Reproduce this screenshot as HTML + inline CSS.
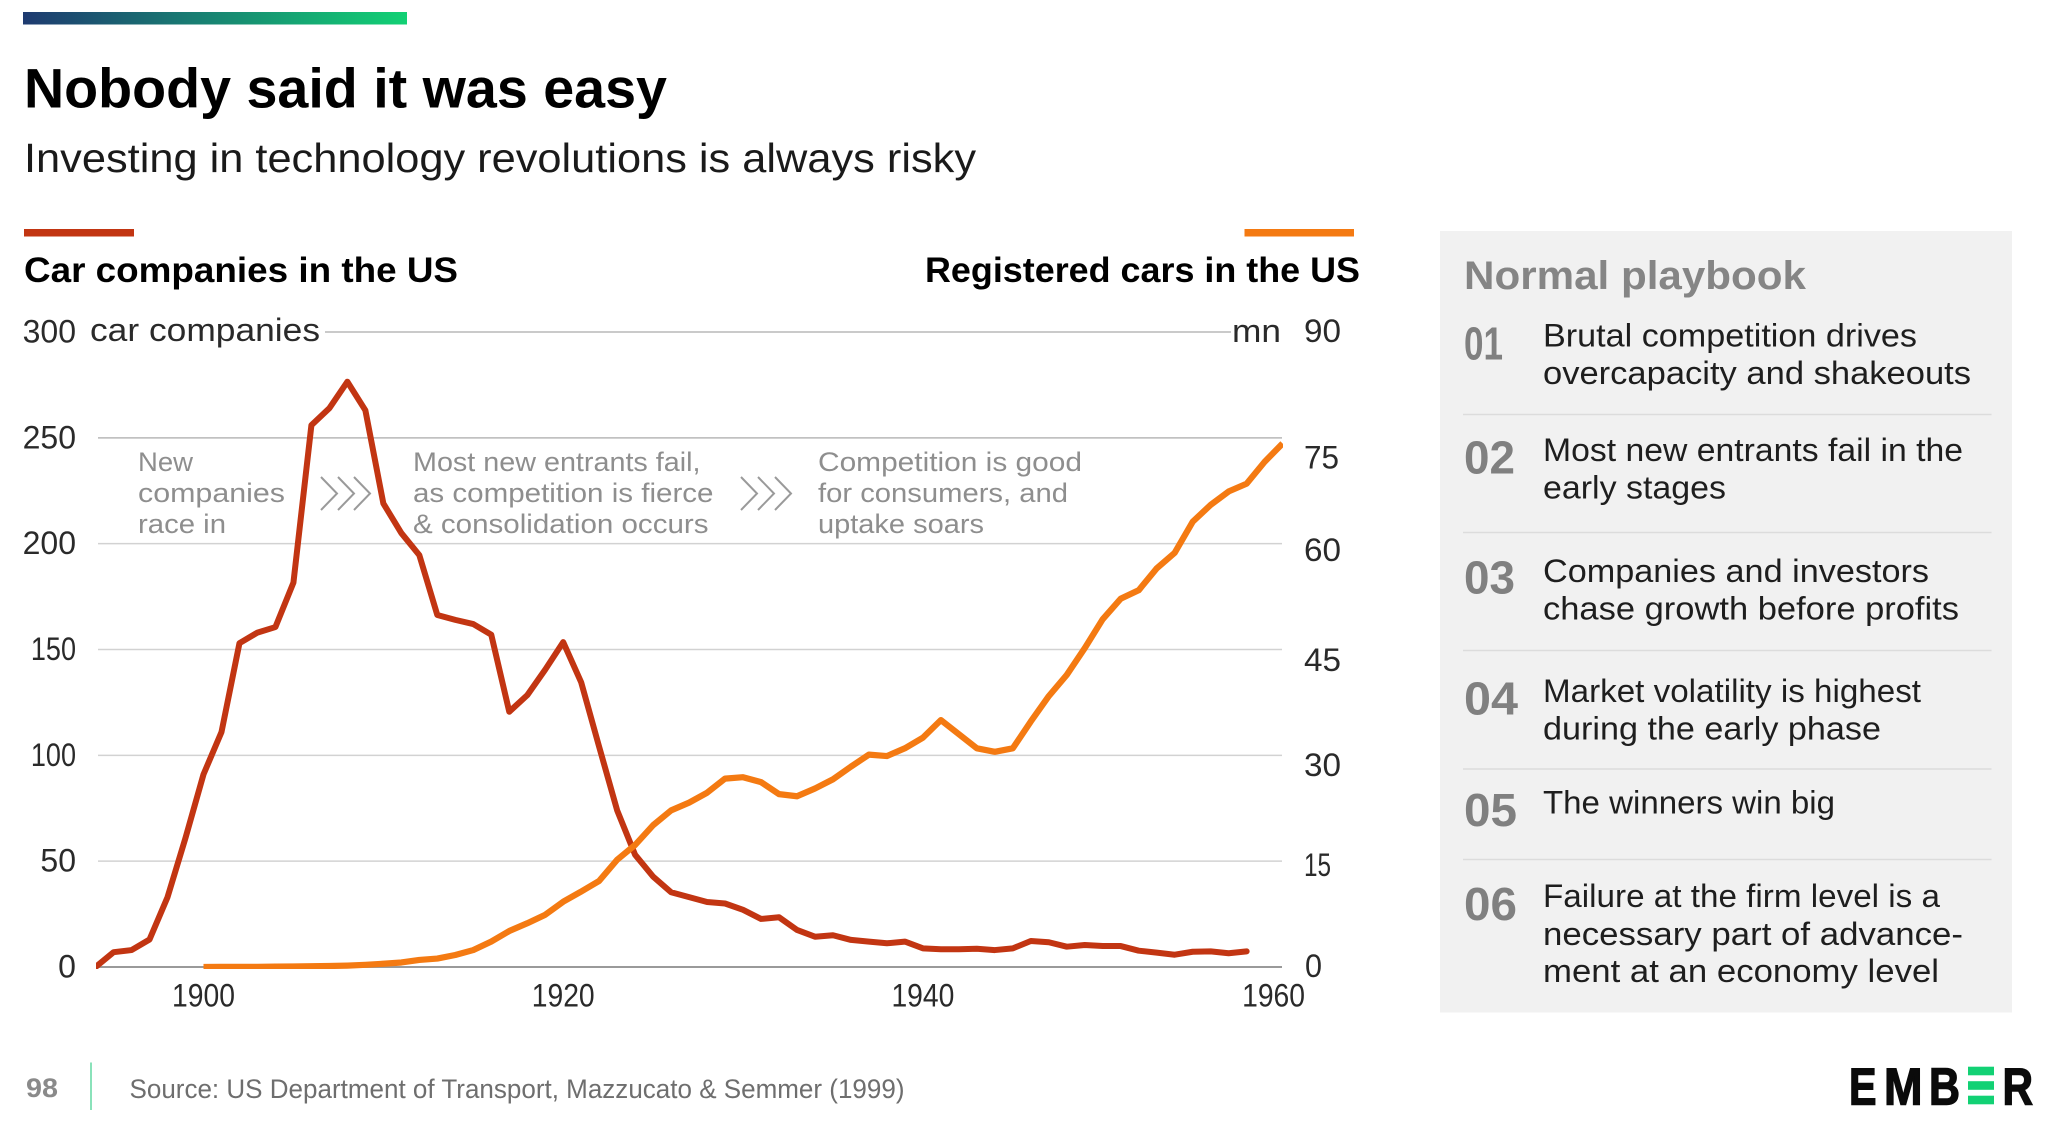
<!DOCTYPE html>
<html lang="en">
<head>
<meta charset="utf-8">
<title>Nobody said it was easy</title>
<style>
html,body{margin:0;padding:0;background:#fff;}
svg{display:block;}
text{font-family:"Liberation Sans",sans-serif;}
.light{fill:#262626;}
.note{fill:#8e8e8e;font-size:27px;}
.item{fill:#1e1e1e;font-size:32px;}
.num{fill:#808080;font-size:46px;font-weight:700;}
.tick{fill:#2a2a2a;font-size:32px;}
.logo{fill:#0b0b0b;stroke:#0b0b0b;stroke-width:1.4px;font-size:52px;font-weight:700;}
.chev{fill:none;stroke:#9a9a9a;stroke-width:2;}
.div{stroke:#dcdcdc;stroke-width:1.5;}
</style>
</head>
<body>
<svg id="slide" xmlns="http://www.w3.org/2000/svg" width="2048" height="1133" viewBox="0 0 2048 1133">
  <defs>
    <linearGradient id="topGrad" x1="0" x2="1" y1="0" y2="0">
      <stop offset="0" stop-color="#1e3a70"/>
      <stop offset="1" stop-color="#12d174"/>
    </linearGradient>
    <clipPath id="plotClip"><rect x="96" y="300" width="1187" height="669"/></clipPath>
  </defs>
  <rect x="0" y="0" width="2048" height="1133" fill="#ffffff"/>
  <rect x="23" y="12" width="384" height="12.5" fill="url(#topGrad)"/>
  <text x="24" y="107.5" font-size="56" font-weight="700" fill="#000" textLength="643" lengthAdjust="spacingAndGlyphs">Nobody said it was easy</text>
  <text x="24" y="172" font-size="41" fill="#1a1a1a" textLength="952" lengthAdjust="spacingAndGlyphs">Investing in technology revolutions is always risky</text>

  <rect x="24" y="229" width="110" height="7.5" fill="#c23512"/>
  <rect x="1244.5" y="229" width="109.5" height="7.5" fill="#f47a12"/>
  <text x="24" y="282" font-size="35" font-weight="700" fill="#000" textLength="434" lengthAdjust="spacingAndGlyphs">Car companies in the US</text>
  <text x="925" y="282" font-size="35" font-weight="700" fill="#000" textLength="435" lengthAdjust="spacingAndGlyphs">Registered cars in the US</text>

  <g id="grid"></g>
  <text class="tick" x="90" y="341" textLength="230" lengthAdjust="spacingAndGlyphs">car companies</text>
  <text class="tick" x="1232" y="342" textLength="49" lengthAdjust="spacingAndGlyphs">mn</text>
  <g id="leftTicks"></g>
  <g id="xTicks"></g>
  <g>
    <text class="tick" x="1304" y="342" textLength="37" lengthAdjust="spacingAndGlyphs">90</text>
    <text class="tick" x="1304" y="468.5" textLength="35" lengthAdjust="spacingAndGlyphs">75</text>
    <text class="tick" x="1304" y="561" textLength="37" lengthAdjust="spacingAndGlyphs">60</text>
    <text class="tick" x="1304" y="671" textLength="37" lengthAdjust="spacingAndGlyphs">45</text>
    <text class="tick" x="1304" y="776" textLength="37" lengthAdjust="spacingAndGlyphs">30</text>
    <text class="tick" x="1304" y="876" textLength="27" lengthAdjust="spacingAndGlyphs">15</text>
    <text class="tick" x="1305" y="977" textLength="17" lengthAdjust="spacingAndGlyphs">0</text>
  </g>

  <g>
    <text class="note" x="138" y="471" textLength="55" lengthAdjust="spacingAndGlyphs">New</text>
    <text class="note" x="138" y="502" textLength="147" lengthAdjust="spacingAndGlyphs">companies</text>
    <text class="note" x="138" y="533" textLength="88" lengthAdjust="spacingAndGlyphs">race in</text>
  </g>
  <g>
    <text class="note" x="413" y="471" textLength="287.5" lengthAdjust="spacingAndGlyphs">Most new entrants fail,</text>
    <text class="note" x="413" y="502" textLength="300.5" lengthAdjust="spacingAndGlyphs">as competition is fierce</text>
    <text class="note" x="413" y="533" textLength="295.5" lengthAdjust="spacingAndGlyphs">&amp; consolidation occurs</text>
  </g>
  <g>
    <text class="note" x="818" y="471" textLength="264" lengthAdjust="spacingAndGlyphs">Competition is good</text>
    <text class="note" x="818" y="502" textLength="250" lengthAdjust="spacingAndGlyphs">for consumers, and</text>
    <text class="note" x="818" y="533" textLength="166" lengthAdjust="spacingAndGlyphs">uptake soars</text>
  </g>
  <g>
    <path class="chev" d="M321 477L337 493.5L321 510"/>
    <path class="chev" d="M338 477L354 493.5L338 510"/>
    <path class="chev" d="M354 477L370 493.5L354 510"/>
  </g>
  <g>
    <path class="chev" d="M741 477L757 493.5L741 510"/>
    <path class="chev" d="M758 477L774 493.5L758 510"/>
    <path class="chev" d="M775 477L791 493.5L775 510"/>
  </g>

  <g id="series" clip-path="url(#plotClip)"></g>

  <rect x="1440" y="231" width="572" height="781.5" fill="#f1f1f1"/>
  <text x="1464" y="289" font-size="40" font-weight="700" fill="#858585" textLength="342" lengthAdjust="spacingAndGlyphs">Normal playbook</text>

  <g>
    <text class="num" x="1464" y="359.5" textLength="39" lengthAdjust="spacingAndGlyphs">01</text>
    <text class="item" x="1543" y="346.5" textLength="374" lengthAdjust="spacingAndGlyphs">Brutal competition drives</text>
    <text class="item" x="1543" y="384" textLength="428" lengthAdjust="spacingAndGlyphs">overcapacity and shakeouts</text>
  </g>
  <line class="div" x1="1463" x2="1991.5" y1="414.5" y2="414.5"/>
  <g>
    <text class="num" x="1464" y="473.5" textLength="51" lengthAdjust="spacingAndGlyphs">02</text>
    <text class="item" x="1543" y="461" textLength="420" lengthAdjust="spacingAndGlyphs">Most new entrants fail in the</text>
    <text class="item" x="1543" y="498.5" textLength="183" lengthAdjust="spacingAndGlyphs">early stages</text>
  </g>
  <line class="div" x1="1463" x2="1991.5" y1="532.5" y2="532.5"/>
  <g>
    <text class="num" x="1464" y="593.5" textLength="51" lengthAdjust="spacingAndGlyphs">03</text>
    <text class="item" x="1543" y="582" textLength="386" lengthAdjust="spacingAndGlyphs">Companies and investors</text>
    <text class="item" x="1543" y="619.5" textLength="416" lengthAdjust="spacingAndGlyphs">chase growth before profits</text>
  </g>
  <line class="div" x1="1463" x2="1991.5" y1="650.5" y2="650.5"/>
  <g>
    <text class="num" x="1464" y="714.5" textLength="54" lengthAdjust="spacingAndGlyphs">04</text>
    <text class="item" x="1543" y="702" textLength="378" lengthAdjust="spacingAndGlyphs">Market volatility is highest</text>
    <text class="item" x="1543" y="739.5" textLength="338" lengthAdjust="spacingAndGlyphs">during the early phase</text>
  </g>
  <line class="div" x1="1463" x2="1991.5" y1="769" y2="769"/>
  <g>
    <text class="num" x="1464" y="826" textLength="53" lengthAdjust="spacingAndGlyphs">05</text>
    <text class="item" x="1543" y="813.5" textLength="292" lengthAdjust="spacingAndGlyphs">The winners win big</text>
  </g>
  <line class="div" x1="1463" x2="1991.5" y1="859.5" y2="859.5"/>
  <g>
    <text class="num" x="1464" y="920" textLength="53" lengthAdjust="spacingAndGlyphs">06</text>
    <text class="item" x="1543" y="907" textLength="397" lengthAdjust="spacingAndGlyphs">Failure at the firm level is a</text>
    <text class="item" x="1543" y="945" textLength="420" lengthAdjust="spacingAndGlyphs">necessary part of advance-</text>
    <text class="item" x="1543" y="982" textLength="396" lengthAdjust="spacingAndGlyphs">ment at an economy level</text>
  </g>

  <text x="26" y="1097" font-size="27" font-weight="700" fill="#8a8a8a" textLength="32" lengthAdjust="spacingAndGlyphs">98</text>
  <line x1="91" x2="91" y1="1062.5" y2="1110" stroke="#62d8a2" stroke-width="1.5"/>
  <text x="129.5" y="1098" font-size="27" fill="#6e6e6e" textLength="775" lengthAdjust="spacingAndGlyphs">Source: US Department of Transport, Mazzucato &amp; Semmer (1999)</text>

  <g>
    <text class="logo" x="1849" y="1104.5" textLength="27.5" lengthAdjust="spacingAndGlyphs">E</text>
    <text class="logo" x="1884" y="1104.5" textLength="38.5" lengthAdjust="spacingAndGlyphs">M</text>
    <text class="logo" x="1929" y="1104.5" textLength="31" lengthAdjust="spacingAndGlyphs">B</text>
    <rect x="1968" y="1066.7" width="26" height="8.6" fill="#12d174"/>
    <rect x="1968" y="1081.2" width="26" height="8.6" fill="#12d174"/>
    <rect x="1968" y="1095.7" width="26" height="8.6" fill="#12d174"/>
    <text class="logo" x="2002.5" y="1104.5" textLength="30.5" lengthAdjust="spacingAndGlyphs">R</text>
  </g>
</svg>
<script>
var startYear = 1894;
var orangeStartYear = 1900;
var carCompanies = [0,7,8,13,33,61,91,111,153,158,160.6,181.6,256,264,276.5,263,219,205,194.6,166.3,164,162,157,120.6,128.4,140.5,153.5,134.5,104,74,53,42.7,35.3,33,30.7,30,27,22.7,23.5,17.5,14.3,15,12.8,12,11.2,12,8.8,8.4,8.4,8.6,8,8.8,12.3,11.7,9.6,10.4,9.9,9.9,7.7,6.8,5.8,7.2,7.4,6.5,7.4];
var registeredCars = [0.01,0.02,0.03,0.03,0.06,0.08,0.11,0.14,0.2,0.31,0.46,0.64,1,1.2,1.7,2.4,3.6,5.1,6.2,7.4,9.25,10.7,12.2,15.2,17.3,20.1,22.2,23.3,24.7,26.7,26.9,26.2,24.5,24.2,25.3,26.6,28.4,30.1,29.9,31,32.5,35,33,31,30.5,31,34.8,38.4,41.4,45.2,49.3,52.2,53.4,56.5,58.7,63.1,65.5,67.4,68.5,71.6,74.2];
var leftTickValues = [0,50,100,150,200,250,300];
var gridValues = [50,100,150,200,250];
var yearTicks = [1900,1920,1940,1960];

var SVGNS = 'http://www.w3.org/2000/svg';
function xScale(year){ return 203.5 + (year - 1900) * 17.985; }
function yLeft(v){ return 967 - v * 635 / 300; }
function yRight(v){ return 967 - v * 635 / 90; }
function digitWidth(s){
  var w = 0;
  for (var i = 0; i < s.length; i++) { w += s.charAt(i) === '1' ? 9.5 : 17.8; }
  return w;
}
function make(tag, attrs){
  var el = document.createElementNS(SVGNS, tag);
  for (var k in attrs) { el.setAttribute(k, attrs[k]); }
  return el;
}
function pathFor(values, first, yFn){
  var d = '';
  for (var i = 0; i < values.length; i++) {
    d += (i ? 'L' : 'M') + xScale(first + i).toFixed(2) + ' ' + yFn(values[i]).toFixed(2);
  }
  return d;
}

var grid = document.getElementById('grid');
gridValues.forEach(function(v){
  var line = make('line', {x1: 98, x2: 1282, y1: yLeft(v), y2: yLeft(v), stroke: v === 250 ? '#b8b8b8' : '#d2d2d2', 'stroke-width': 1.5});
  
  
  grid.appendChild(line);
});
var topLine = make('line', {x1: 325, x2: 1231, y1: yLeft(300), y2: yLeft(300), stroke: '#b8b8b8', 'stroke-width': 1.5});


grid.appendChild(topLine);
var baseLine = make('line', {x1: 98, x2: 1282, y1: yLeft(0), y2: yLeft(0), stroke: '#9a9a9a', 'stroke-width': 2});


grid.appendChild(baseLine);

var leftTicks = document.getElementById('leftTicks');
leftTickValues.forEach(function(v){
  var label = String(v);
  var t = make('text', {x: 76, y: yLeft(v) + 10.5, 'text-anchor': 'end', 'class': 'tick', textLength: digitWidth(label), lengthAdjust: 'spacingAndGlyphs'});
  
  
  t.textContent = label;
  leftTicks.appendChild(t);
});

var xTicks = document.getElementById('xTicks');
yearTicks.forEach(function(year){
  var label = String(year);
  var w = digitWidth(label);
  var cx = Math.min(xScale(year), 1305 - w / 2);
  var t = make('text', {x: cx, y: 1006.5, 'text-anchor': 'middle', 'class': 'tick', textLength: w, lengthAdjust: 'spacingAndGlyphs'});
  
  
  t.textContent = label;
  xTicks.appendChild(t);
});

var series = document.getElementById('series');
var redLine = make('path', {d: pathFor(carCompanies, startYear, yLeft), fill: 'none', stroke: '#c23512', 'stroke-width': 6, 'stroke-linejoin': 'round', 'stroke-linecap': 'round'});


series.appendChild(redLine);
var orangeLine = make('path', {d: pathFor(registeredCars, orangeStartYear, yRight), fill: 'none', stroke: '#f47a12', 'stroke-width': 6.2, 'stroke-linejoin': 'round', 'stroke-linecap': 'butt'});


series.appendChild(orangeLine);
</script>
</body>
</html>
